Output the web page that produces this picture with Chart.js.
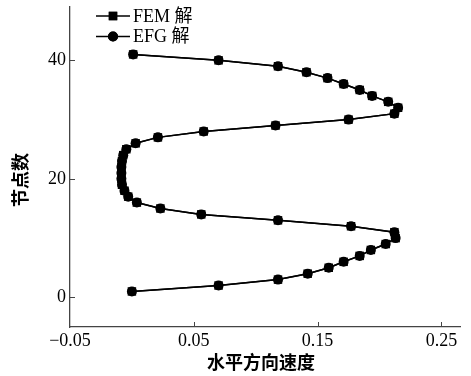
<!DOCTYPE html>
<html>
<head>
<meta charset="utf-8">
<script src="https://cdn.jsdelivr.net/npm/chart.js@4/dist/chart.umd.min.js"></script>
<style>
html,body{margin:0;padding:0;background:#fff;}
#wrap{width:471px;height:376px;}
</style>
</head>
<body>
<div id="wrap"><canvas id="c" width="471" height="376"></canvas></div>
<script>
// ---- data ----
const nodes = [1,2,3,4,5,6,7,8,9,10,11,12,13,14,15,16,17,18,19,20,21,22,23,24,25,26,27,28,29,30,31,32,33,34,35,36,37,38,39,40,41];
const femVelocity = [0.000,0.070,0.118,0.142,0.159,0.171,0.184,0.193,0.205,0.213,0.212,0.177,0.118,0.056,0.023,0.004,-0.003,-0.006,-0.008,-0.0085,-0.0085,-0.0085,-0.008,-0.007,-0.0045,0.003,0.021,0.058,0.116,0.175,0.212,0.215,0.207,0.194,0.184,0.171,0.158,0.141,0.118,0.070,0.001];
const efgVelocity = [0.000,0.070,0.118,0.142,0.159,0.171,0.184,0.193,0.205,0.213,0.212,0.177,0.118,0.056,0.023,0.004,-0.003,-0.006,-0.008,-0.0085,-0.0085,-0.0085,-0.008,-0.007,-0.0045,0.003,0.021,0.058,0.116,0.175,0.212,0.215,0.207,0.194,0.184,0.171,0.158,0.141,0.118,0.070,0.001];
const seriesLabels = ['FEM 解', 'EFG 解'];
const xTickValues = [-0.05, 0.05, 0.15, 0.25];
const yTickValues = [0, 20, 40];
const xTitle = '水平方向速度';
const yTitle = '节点数';

// ---- styling ----
const serif = "'Liberation Serif', 'Times New Roman', 'Noto Sans CJK SC', serif";
const axisColor = '#444';

const innerTicks = {
  id: 'innerTicks',
  afterDraw(chart) {
    const ctx = chart.ctx, xs = chart.scales.x, ys = chart.scales.y;
    ctx.save();
    ctx.strokeStyle = axisColor;
    ctx.lineWidth = 1;
    ctx.beginPath();
    xs.ticks.forEach(t => {
      const px = Math.round(xs.getPixelForValue(t.value)) + 0.5;
      if (px <= xs.left + 2) return;
      ctx.moveTo(px, xs.top);
      ctx.lineTo(px, xs.top - 5);
    });
    ys.ticks.forEach(t => {
      const py = Math.round(ys.getPixelForValue(t.value)) + 0.5;
      ctx.moveTo(ys.right, py);
      ctx.lineTo(ys.right + 5, py);
    });
    ctx.stroke();
    ctx.restore();
  }
};

const titlesAndLegend = {
  id: 'titlesAndLegend',
  afterDraw(chart) {
    const ctx = chart.ctx, area = chart.chartArea;
    ctx.save();
    ctx.fillStyle = '#000';
    // axis titles
    ctx.font = "bold 18px 'Noto Sans CJK SC'";
    ctx.textAlign = 'center';
    ctx.textBaseline = 'middle';
    ctx.fillText(xTitle, (area.left + area.right) / 2 - 4, 362);
    ctx.save();
    ctx.translate(20, (area.top + area.bottom) / 2 + 13);
    ctx.rotate(-Math.PI / 2);
    ctx.fillText(yTitle, 0, 0);
    ctx.restore();
    // legend
    const entries = chart.data.datasets;
    entries.forEach((ds, i) => {
      const cy = 16 + i * 20.5;
      ctx.strokeStyle = '#000';
      ctx.lineWidth = 1.5;
      ctx.beginPath();
      ctx.moveTo(96, cy);
      ctx.lineTo(130, cy);
      ctx.stroke();
      Chart.helpers.drawPoint(ctx, {pointStyle: ds.pointStyle, radius: ds.pointRadius, borderWidth: 0, rotation: 0}, 113, cy);
      ctx.fillStyle = '#000';
      ctx.fill();
      ctx.font = "18px " + serif;
      ctx.textAlign = 'left';
      ctx.fillText(ds.label, 133, cy + 1);
    });
    ctx.restore();
  }
};

const tickFont = {family: serif, size: 18};

new Chart(document.getElementById('c'), {
  type: 'scatter',
  data: {
    datasets: [
      {
        label: seriesLabels[0],
        data: nodes.map((n, i) => ({x: femVelocity[i], y: n})),
        showLine: true,
        borderColor: '#000',
        borderWidth: 1.5,
        backgroundColor: '#000',
        pointBackgroundColor: '#000',
        pointBorderWidth: 0,
        pointStyle: 'rect',
        pointRadius: 6.0,
        pointHoverRadius: 6.0,
        order: 2
      },
      {
        label: seriesLabels[1],
        data: nodes.map((n, i) => ({x: efgVelocity[i], y: n})),
        showLine: true,
        borderColor: '#000',
        borderWidth: 1.5,
        backgroundColor: '#000',
        pointBackgroundColor: '#000',
        pointBorderWidth: 0,
        pointStyle: 'circle',
        pointRadius: 5.0,
        pointHoverRadius: 5.0,
        order: 1
      }
    ]
  },
  options: {
    responsive: false,
    animation: false,
    devicePixelRatio: 1,
    layout: {padding: {left: 0, top: 7, right: 11, bottom: 0}},
    plugins: {legend: {display: false}, tooltip: {enabled: false}},
    scales: {
      x: {
        type: 'linear',
        min: -0.05,
        max: 0.265,
        afterBuildTicks: s => { s.ticks = xTickValues.map(v => ({value: v})); },
        afterFit: s => { s.height = 49; s.paddingLeft = 0; s.paddingRight = 0; },
        grid: {display: true, drawOnChartArea: false, drawTicks: false, color: axisColor},
        border: {display: true, color: axisColor, width: 1.3},
        ticks: {
          font: tickFont, color: '#000', padding: 3, maxRotation: 0, autoSkip: false,
          callback: v => (v < 0 ? '\u2212' : '') + Math.abs(v).toFixed(2)
        }
      },
      y: {
        type: 'linear',
        min: -5,
        max: 49,
        afterBuildTicks: s => { s.ticks = yTickValues.map(v => ({value: v})); },
        afterFit: s => { s.width = 70; s.paddingTop = 0; s.paddingBottom = 0; },
        grid: {display: true, drawOnChartArea: false, drawTicks: false, color: axisColor},
        border: {display: true, color: axisColor, width: 1.3},
        ticks: {font: tickFont, color: '#000', padding: 4, autoSkip: false, callback: v => String(v)}
      }
    }
  },
  plugins: [innerTicks, titlesAndLegend]
});
</script>
</body>
</html>
